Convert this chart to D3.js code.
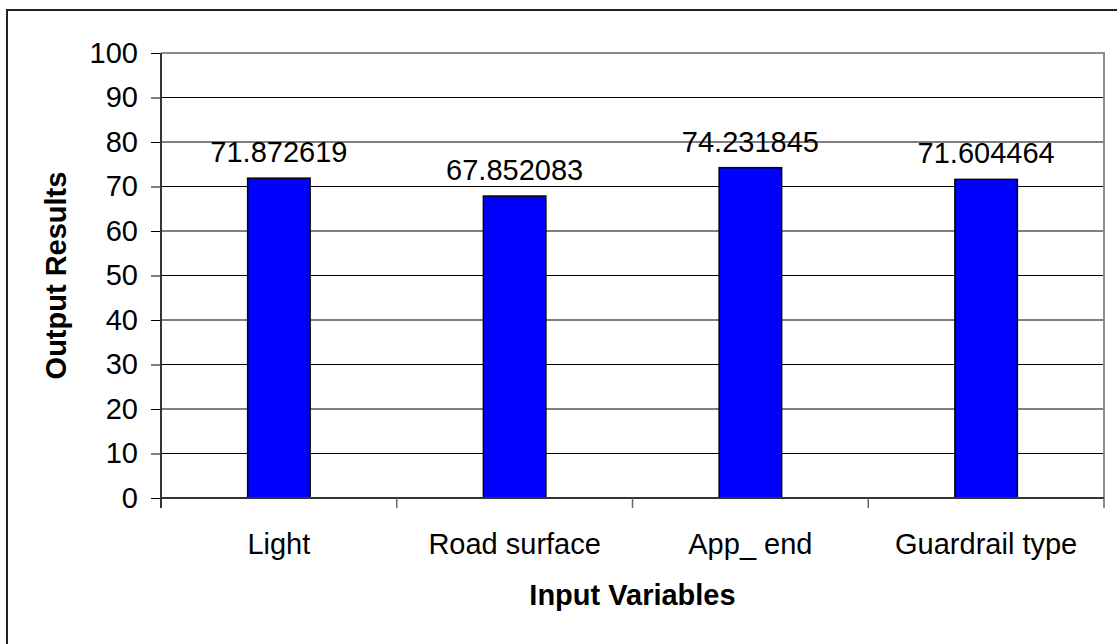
<!DOCTYPE html>
<html>
<head>
<meta charset="utf-8">
<script src="https://cdn.jsdelivr.net/npm/d3@7"></script>
<style>
  body { margin: 0; background: #fff; }
  text { font-family: "Liberation Sans", Arial, sans-serif; fill: #000; }
</style>
</head>
<body>
<div id="chart"></div>
<script>
// data
var categories = ["Light", "Road surface", "App_ end", "Guardrail type"];
var values = [71.872619, 67.852083, 74.231845, 71.604464];
var valueLabels = ["71.872619", "67.852083", "74.231845", "71.604464"];
var yTicks = [0, 10, 20, 30, 40, 50, 60, 70, 80, 90, 100];

var W = 1117, H = 644;
var margin = {top: 53, right: 13, bottom: 146, left: 161};
var width = W - margin.left - margin.right;
var height = H - margin.top - margin.bottom;
var fontSize = "29px";

var svg = d3.select("#chart").append("svg")
    .attr("width", W)
    .attr("height", H);

// outer chart frame
svg.append("rect")
    .attr("x", 7).attr("y", 10)
    .attr("width", W + 20).attr("height", H + 20)
    .attr("fill", "none")
    .attr("stroke", "#222")
    .attr("stroke-width", 2);

var g = svg.append("g")
    .attr("transform", "translate(" + margin.left + "," + margin.top + ")");

var x = d3.scaleBand()
    .domain(categories)
    .range([0, width])
    .paddingInner(0)
    .paddingOuter(0);

var y = d3.scaleLinear()
    .domain([0, 100])
    .range([height, 0]);

var barW = x.bandwidth() * 0.265;

// gridlines
g.append("g").attr("class", "grid")
    .selectAll("line")
    .data(yTicks.filter(function(d) { return d > 0 && d < 100; }))
    .enter().append("line")
    .attr("x1", 0).attr("x2", width)
    .attr("y1", function(d) { return y(d); })
    .attr("y2", function(d) { return y(d); })
    .attr("stroke", "#000")
    .attr("stroke-width", 1);

// plot area border (top + right, gray)
g.append("path")
    .attr("d", "M0," + y(100) + "H" + width + "V" + height)
    .attr("fill", "none")
    .attr("stroke", "#8c8c8c")
    .attr("stroke-width", 2);

// bars
g.append("g").attr("class", "bars")
    .selectAll("rect")
    .data(values)
    .enter().append("rect")
    .attr("x", function(d, i) { return x(categories[i]) + x.bandwidth() / 2 - barW / 2; })
    .attr("y", function(d) { return y(d); })
    .attr("width", barW)
    .attr("height", function(d) { return height - y(d); })
    .attr("fill", "#0000ff")
    .attr("stroke", "#000")
    .attr("stroke-width", 1.5);

// value labels
g.append("g").attr("class", "labels")
    .selectAll("text")
    .data(values)
    .enter().append("text")
    .attr("x", function(d, i) { return x(categories[i]) + x.bandwidth() / 2; })
    .attr("y", function(d) { return y(d) - 16; })
    .attr("text-anchor", "middle")
    .style("font-size", fontSize)
    .text(function(d, i) { return valueLabels[i]; });

// y axis
var yAxis = d3.axisLeft(y)
    .tickValues(yTicks)
    .tickSize(10)
    .tickPadding(13);

var ya = g.append("g")
    .attr("class", "y axis")
    .call(yAxis);
ya.select(".domain").remove();
ya.selectAll(".tick line").attr("stroke", "#000").attr("stroke-width", 1);
ya.selectAll("text").style("font-size", fontSize).attr("font-family", null);

// y axis line, running a bit below 0 like the original
g.append("line")
    .attr("x1", 0).attr("x2", 0)
    .attr("y1", 0).attr("y2", height + 10)
    .attr("stroke", "#333")
    .attr("stroke-width", 2);

// x axis line
g.append("line")
    .attr("x1", 0).attr("x2", width)
    .attr("y1", height).attr("y2", height)
    .attr("stroke", "#333")
    .attr("stroke-width", 2);

// category boundary ticks
var bounds = categories.map(function(c) { return x(c); }).concat([width]);
g.append("g").selectAll("line")
    .data(bounds.slice(1))
    .enter().append("line")
    .attr("x1", function(d) { return d; }).attr("x2", function(d) { return d; })
    .attr("y1", height).attr("y2", height + 10)
    .attr("stroke", "#666")
    .attr("stroke-width", 1.5);

// category labels
g.append("g").selectAll("text")
    .data(categories)
    .enter().append("text")
    .attr("x", function(d) { return x(d) + x.bandwidth() / 2; })
    .attr("y", height + 56)
    .attr("text-anchor", "middle")
    .style("font-size", fontSize)
    .text(function(d) { return d; });

// axis titles
g.append("text")
    .attr("x", width / 2)
    .attr("y", height + 107)
    .attr("text-anchor", "middle")
    .style("font-size", fontSize)
    .style("font-weight", "bold")
    .text("Input Variables");

svg.append("text")
    .attr("transform", "translate(66," + (margin.top + height / 2) + ") rotate(-90)")
    .attr("text-anchor", "middle")
    .style("font-size", fontSize)
    .style("font-weight", "bold")
    .text("Output Results");
</script>
</body>
</html>
